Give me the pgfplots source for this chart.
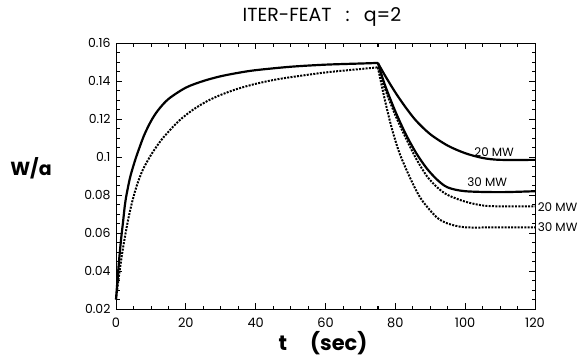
\documentclass[border=0pt]{standalone}
\usepackage{fontspec}
\setmainfont{Poppins}
\usepackage{pgfplots}
\pgfplotsset{compat=1.18}
\begin{document}
\begin{tikzpicture}
\begin{axis}[
  at={(0bp,0bp)}, anchor=south west,
  scale only axis, width=419bp, height=266bp,
  xmin=0, xmax=120, ymin=0.02, ymax=0.16,
  xtick={0,20,...,120},
  ytick={0.02,0.04,...,0.161},
  minor x tick num=3, minor y tick num=3,
  tick align=inside,
  tick style={black, thick},
  major tick length=6bp, minor tick length=3.5bp,
  axis line style={line width=1pt},
  /pgf/number format/assume math mode=true,
  yticklabel style={/pgf/number format/fixed, /pgf/number format/precision=2, font=\fontsize{12.5}{14}\selectfont, xshift=-2bp},
  xticklabel style={font=\fontsize{13}{15}\selectfont, yshift=-5bp},
  scaled y ticks=false,
  clip=false,
]
% tick marks on all four sides
\pgfplotsinvokeforeach{0,20,40,60,80,100,120}{
  \draw[line width=0.8pt] (axis cs:#1,0.02) -- ++(0bp,6bp);
  \draw[line width=0.8pt] (axis cs:#1,0.16) -- ++(0bp,-6bp);}
\pgfplotsinvokeforeach{5,10,15,25,30,35,45,50,55,65,70,75,85,90,95,105,110,115}{
  \draw[line width=0.7pt] (axis cs:#1,0.02) -- ++(0bp,3.5bp);
  \draw[line width=0.7pt] (axis cs:#1,0.16) -- ++(0bp,-3.5bp);}
\pgfplotsinvokeforeach{0.02,0.04,0.06,0.08,0.1,0.12,0.14,0.16}{
  \draw[line width=0.8pt] (axis cs:0,#1) -- ++(6bp,0bp);
  \draw[line width=0.8pt] (axis cs:120,#1) -- ++(-6bp,0bp);}
\pgfplotsinvokeforeach{0.025,0.03,0.035,0.045,0.05,0.055,0.065,0.07,0.075,0.085,0.09,0.095,0.105,0.11,0.115,0.125,0.13,0.135,0.145,0.15,0.155}{
  \draw[line width=0.7pt] (axis cs:0,#1) -- ++(3.5bp,0bp);
  \draw[line width=0.7pt] (axis cs:120,#1) -- ++(-3.5bp,0bp);}
\addplot[black, line width=2.2pt, smooth] coordinates {
(0,0.025) (0.5,0.037) (1,0.048) (1.5,0.0575) (2,0.0655) (2.5,0.074) (3,0.080) (4,0.089)
(5,0.0955) (6,0.1012) (8,0.1112) (10,0.1188)
(12,0.1245) (15,0.1305) (20,0.1365) (25,0.140) (30,0.1425) (35,0.1443) (40,0.1457)
(50,0.1475) (60,0.1486) (70,0.1492) (75,0.1495)};
\addplot[black, line width=2pt, dash pattern=on 2pt off 1.3pt, smooth] coordinates {
(0,0.025) (0.5,0.0325) (1,0.0395) (1.5,0.046) (2,0.052) (3,0.0625) (4,0.0715) (5,0.079)
(6,0.0852) (7,0.0903) (8,0.0945) (10,0.101) (12,0.1065)
(14,0.1112) (18,0.119) (22,0.1248) (26,0.1293) (30,0.1327) (35,0.136) (40,0.1385)
(45,0.1405) (50,0.142) (60,0.1445) (70,0.1463) (75,0.1472)};
% decays, solid
\addplot[black, line width=2.2pt, smooth] coordinates {
(75,0.1495) (77,0.143) (80,0.134) (83,0.126) (86,0.119) (90,0.112) (95,0.106)
(100,0.102) (105,0.0995) (110,0.0985) (120,0.0985)};
\addplot[black, line width=2.2pt, smooth] coordinates {
(75,0.1495) (77,0.138) (80,0.124) (83,0.112) (86,0.102) (89,0.094) (92,0.088)
(95,0.084) (100,0.082) (110,0.0815) (120,0.082)};
% decays, dashed
\addplot[black, line width=2pt, dash pattern=on 2pt off 1.3pt, smooth] coordinates {
(75,0.1472) (77,0.136) (80,0.122) (83,0.110) (86,0.099) (89,0.090) (92,0.084)
(95,0.080) (100,0.0765) (105,0.0745) (110,0.074) (120,0.074)};
\addplot[black, line width=2pt, dash pattern=on 2pt off 1.3pt, smooth] coordinates {
(75,0.1472) (77,0.130) (79,0.115) (81,0.103) (83,0.094) (85,0.086) (87,0.079)
(89,0.074) (92,0.068) (95,0.065) (100,0.063) (110,0.063) (120,0.063)};
\node[font=\fontsize{12}{14}\selectfont, anchor=south] at (axis cs:108.3,0.0985) {20 MW};
\node[font=\fontsize{12}{14}\selectfont, anchor=south] at (axis cs:106.3,0.0825) {30 MW};
\node[font=\fontsize{12}{14}\selectfont, anchor=west, inner sep=1.5bp] at (axis cs:120.3,0.0738) {20 MW};
\node[font=\fontsize{12}{14}\selectfont, anchor=west, inner sep=1.5bp] at (axis cs:120.3,0.0630) {30 MW};
\end{axis}
\node[font=\fontsize{19}{22}\selectfont] at (206bp,292bp) {ITER-FEAT\hspace{0.75em}:\hspace{0.75em}q=2};
\node[font=\bfseries\fontsize{19}{22}\selectfont] at (-85bp,141bp) {W/a};
\node[font=\bfseries\fontsize{21}{24}\selectfont] at (207bp,-34bp) {t\hspace{1.1em}(sec)};
\path (-116bp,-49bp) rectangle (467bp,309bp);
\end{tikzpicture}
\end{document}
